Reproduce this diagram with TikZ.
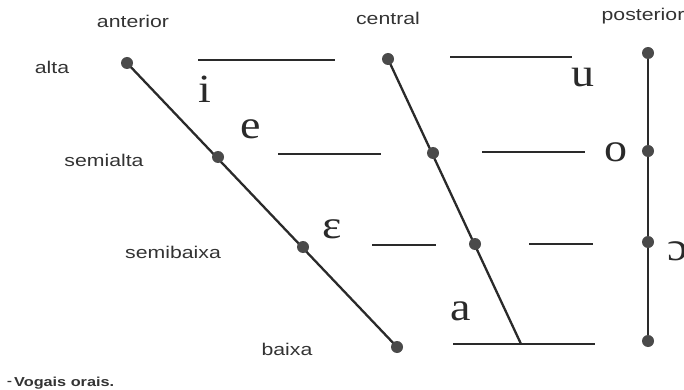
\documentclass[tikz,border=0pt]{standalone}
\usepackage{fontspec}
\setmainfont{Liberation Sans}
\newfontfamily\vowelfont{Liberation Serif}
\newcommand{\widetxt}[2]{\scalebox{#1}[1]{#2}}
\definecolor{ink}{HTML}{2A2A2A}
\definecolor{txt}{HTML}{333333}
\begin{document}
\begin{tikzpicture}[x=1pt,y=-1pt,
  line/.style={line width=2.3pt,draw=ink},
  dot/.style={circle,fill=ink!85,inner sep=0pt,minimum size=12pt},
  lbl/.style={font=\fontsize{17}{19}\selectfont,text=txt,inner sep=0pt},
  vowel/.style={font=\vowelfont\fontsize{40}{44}\selectfont,text=ink,inner sep=0pt}]
\useasboundingbox (0,0) rectangle (684,390);
% coordinates
\coordinate (A1) at (127,63);
\coordinate (A2) at (218,157);
\coordinate (A3) at (303,247);
\coordinate (A4) at (397,347);
\coordinate (C1) at (388,59);
\coordinate (C2) at (433,153);
\coordinate (C3) at (475,244);
\coordinate (C4) at (521,344);
\coordinate (P1) at (648,53);
\coordinate (P2) at (648,151);
\coordinate (P3) at (648,242);
\coordinate (P4) at (648,341);
% main lines
\draw[line] (A1) -- (A4);
\draw[line] (C1) -- (C4);
\draw[line] (P1) -- (P4);
% horizontal strokes
\coordinate (h1a) at (198,60);  \coordinate (h1b) at (335,60);
\coordinate (h2a) at (450,57);  \coordinate (h2b) at (572,57);
\coordinate (h3a) at (278,154); \coordinate (h3b) at (381,154);
\coordinate (h4a) at (482,152); \coordinate (h4b) at (585,152);
\coordinate (h5a) at (372,245); \coordinate (h5b) at (436,245);
\coordinate (h6a) at (529,244); \coordinate (h6b) at (593,244);
\coordinate (h7a) at (453,344); \coordinate (h7b) at (595,344);
\draw[line] (h1a) -- (h1b);
\draw[line] (h2a) -- (h2b);
\draw[line] (h3a) -- (h3b);
\draw[line] (h4a) -- (h4b);
\draw[line] (h5a) -- (h5b);
\draw[line] (h6a) -- (h6b);
\draw[line] (h7a) -- (h7b);
% dots
\foreach \p in {A1,A2,A3,A4,C1,C2,C3,P1,P2,P3,P4}
  \node[dot] (d\p) at (\p) {};
% column labels
\node[lbl] (lant) at (133,21) {\widetxt{1.25}{anterior}};
\node[lbl] (lcen) at (388,18) {\widetxt{1.25}{central}};
\node[lbl] (lpos) at (643,16) {\widetxt{1.25}{posterior}};
% row labels
\node[lbl] (lalt) at (52,67) {\widetxt{1.25}{alta}};
\node[lbl] (lsa) at (104,160) {\widetxt{1.25}{semialta}};
\node[lbl] (lsb) at (173,252) {\widetxt{1.25}{semibaixa}};
\node[lbl] (lbx) at (287,349) {\widetxt{1.25}{baixa}};
% vowels
\node[vowel] (vi) at (205,89) {\widetxt{1.15}{i}};
\node[vowel] (ve) at (251,129) {\widetxt{1.15}{e}};
\node[vowel] (veps) at (332,229) {\widetxt{1.15}{ɛ}};
\node[vowel] (vu) at (583,78) {\widetxt{1.15}{u}};
\node[vowel] (vo) at (616,152) {\widetxt{1.15}{o}};
\node[vowel] (vopo) at (678,251) {\widetxt{1.15}{ɔ}};
\node[vowel] (va) at (461,311) {\widetxt{1.15}{a}};
% caption
\node[lbl,anchor=west,font=\bfseries\fontsize{13}{15}\selectfont] (cap) at (14,383) {\widetxt{1.25}{Vogais orais.}};
\node[lbl,anchor=east,font=\bfseries\fontsize{13}{15}\selectfont] (capdash) at (cap.west) {\widetxt{0.6}{–}\,};
\end{tikzpicture}
\end{document}
